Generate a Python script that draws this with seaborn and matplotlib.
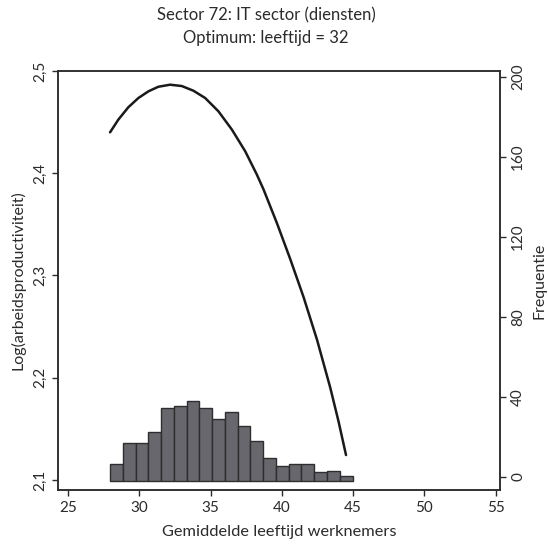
import matplotlib
matplotlib.use("Agg")
import matplotlib.pyplot as plt
import seaborn as sns
import numpy as np
import pandas as pd
from matplotlib.ticker import FuncFormatter

# histogram: frequentie per leeftijdsklasse (top van de balk, rechter as)
freq = [6.3, 16.7, 16.7, 22.3, 34.2, 35.3, 38.0, 34.2, 28.8, 32.2,
        25.3, 18.0, 9.3, 5.5, 6.3, 6.3, 2.2, 2.7, 0.2]
bin_start = 27.95
bin_width = 0.895

# gefitte curve: leeftijd vs log(arbeidsproductiviteit)
curve_age = [27.95, 28.53, 29.23, 29.94, 30.64, 31.34, 32.16, 32.98, 33.80,
             34.62, 35.55, 36.50, 37.43, 38.25, 38.72, 39.66, 40.59, 41.52,
             42.47, 43.40, 43.98, 44.50]
curve_logprod = [2.4400, 2.4524, 2.4645, 2.4736, 2.4801, 2.4846, 2.4866, 2.4853, 2.4807,
                 2.4736, 2.4606, 2.4426, 2.4215, 2.3986, 2.3840, 2.3510, 2.3160, 2.2790,
                 2.2370, 2.1900, 2.1570, 2.1244]

title_lines = ["Sector 72: IT sector (diensten)", "Optimum: leeftijd = 32"]
x_label = "Gemiddelde leeftijd werknemers"
y_label = "Log(arbeidsproductiviteit)"
y2_label = "Frequentie"
x_ticks = [25, 30, 35, 40, 45, 50, 55]
y_ticks = [2.1, 2.2, 2.3, 2.4, 2.5]
y2_ticks = [0, 40, 80, 120, 160, 200]

sns.set_style("ticks")
plt.rcParams["font.family"] = ["Lato", "DejaVu Sans"]
ink = "#2b2b2b"
plt.rcParams.update({
    "axes.edgecolor": ink, "axes.linewidth": 1.1,
    "xtick.color": ink, "ytick.color": ink,
    "xtick.major.width": 1.0, "ytick.major.width": 1.0,
    "xtick.major.size": 4.5, "ytick.major.size": 4.5,
    "text.color": ink, "axes.labelcolor": ink,
})

fig = plt.figure(figsize=(5.48, 5.5), dpi=100)
ax = fig.add_axes([58 / 548, 60 / 550, 442 / 548, 419 / 550])
ax2 = ax.twinx()

# histogram on secondary axis
edges = bin_start + bin_width * np.arange(len(freq) + 1)
base = -2.2
ax2.bar(edges[:-1], np.array(freq) - base, bottom=base, width=bin_width,
        align="edge", color="#67676d", edgecolor="#2e2e2e", linewidth=1.0, zorder=2)

# curve on primary axis
df = pd.DataFrame({"age": curve_age, "logprod": curve_logprod})
ax.set_zorder(ax2.get_zorder() + 1)
ax.patch.set_visible(False)
sns.lineplot(data=df, x="age", y="logprod", ax=ax, color="#1a1a1a", linewidth=1.8,
             sort=False, estimator=None)

ax.set_xlim(24.3, 55.3)
ax.set_ylim(2.0902, 2.5)
ax2.set_ylim(-6.65, 202.8)

ax.set_xticks(x_ticks)
ax.set_yticks(y_ticks)
ax2.set_yticks(y2_ticks)
ax.yaxis.set_major_formatter(FuncFormatter(lambda v, p: f"{v:.1f}".replace(".", ",")))
ax.tick_params(axis="both", labelsize=11)
ax2.tick_params(axis="y", labelsize=11)
for lab in ax.get_yticklabels():
    lab.set_rotation(90)
    lab.set_va("center")
for lab in ax2.get_yticklabels():
    lab.set_rotation(90)
    lab.set_va("center")

ax.set_xlabel(x_label, fontsize=11.8, labelpad=7)
ax.set_ylabel(y_label, fontsize=11.5, labelpad=5)
ax2.set_ylabel(y2_label, fontsize=11.5, labelpad=5)

fig.text(266 / 548, 1 - 15 / 550, title_lines[0], ha="center", va="center", fontsize=12)
fig.text(266 / 548, 1 - 38 / 550, title_lines[1], ha="center", va="center", fontsize=12)

fig.savefig("out.png", dpi=100)
plt.close(fig)
